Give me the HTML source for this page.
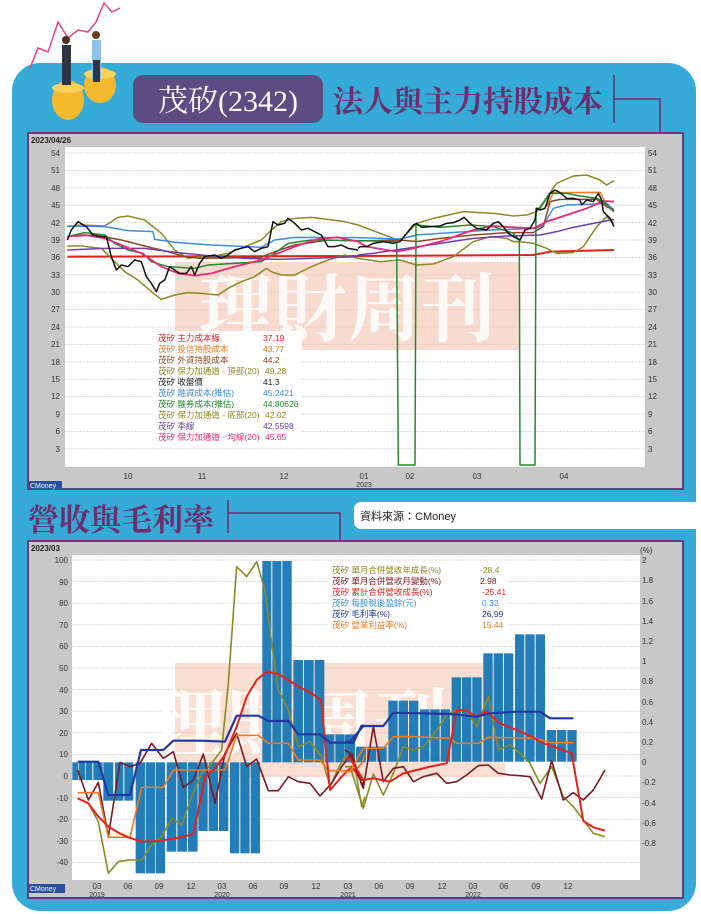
<!DOCTYPE html>
<html><head><meta charset="utf-8"><style>
html,body{margin:0;padding:0;background:#fff;}
svg{display:block;}
text{font-family:"Liberation Sans","Noto Sans CJK TC",sans-serif;}
.s{fill:none;stroke-linejoin:round;}
</style></head><body>
<svg width="701" height="914" viewBox="0 0 701 914" xmlns="http://www.w3.org/2000/svg">
<rect x="12" y="63" width="684" height="848" rx="28" fill="#36abd8"/>
<polyline points="30,68 38,48 48,52 58,22 68,38 78,30 88,32 96,22 104,3 112,12 120,8" fill="none" stroke="#e8457e" stroke-width="1.5"/>
<ellipse cx="68" cy="100" rx="16" ry="20" fill="#f5b92e"/>
<ellipse cx="68" cy="88" rx="16" ry="5" fill="#fbd35a"/>
<ellipse cx="100" cy="85" rx="16" ry="18" fill="#f5b92e"/>
<ellipse cx="100" cy="74" rx="16" ry="5" fill="#fbd35a"/>
<rect x="62" y="45" width="9" height="40" fill="#2d3446"/>
<circle cx="66" cy="40" r="4" fill="#4a2f1e"/>
<rect x="92" y="40" width="9" height="40" fill="#8fc3e8"/>
<rect x="93" y="60" width="7" height="22" fill="#2d3446"/>
<circle cx="96" cy="35" r="4" fill="#6b3e1e"/>
<rect x="133" y="75" width="190" height="48" rx="10" fill="#5b4c82"/>
<text x="228" y="111" text-anchor="middle" font-size="30" fill="#fff" style="font-family:'Liberation Serif','Noto Serif CJK SC',serif">茂矽(2342)</text>
<text x="333" y="112" font-size="30" font-weight="bold" fill="#6e2d6e" style="font-family:'Noto Serif CJK SC',serif">法人與主力持股成本</text>
<polyline points="614,75 614,123" stroke="#6e2d6e" stroke-width="1.5" fill="none"/>
<polyline points="614,99 660,99 660,133" stroke="#6e2d6e" stroke-width="1.5" fill="none"/>

<rect x="28" y="133" width="655" height="356" fill="#c8c8c8" stroke="#6b3a78" stroke-width="2"/>
<text x="31" y="143" font-size="8" font-weight="bold" fill="#222">2023/04/26</text>
<rect x="65" y="147" width="580" height="320" fill="#fff"/>
<g stroke="#d8d8d8" stroke-width="1" stroke-dasharray="2,1">
<line x1="65" x2="645" y1="153" y2="153"/><line x1="65" x2="645" y1="170.4" y2="170.4"/><line x1="65" x2="645" y1="187.8" y2="187.8"/><line x1="65" x2="645" y1="205.2" y2="205.2"/><line x1="65" x2="645" y1="222.6" y2="222.6"/><line x1="65" x2="645" y1="240" y2="240"/><line x1="65" x2="645" y1="257.4" y2="257.4"/><line x1="65" x2="645" y1="274.8" y2="274.8"/><line x1="65" x2="645" y1="292.2" y2="292.2"/><line x1="65" x2="645" y1="309.6" y2="309.6"/><line x1="65" x2="645" y1="327" y2="327"/><line x1="65" x2="645" y1="344.4" y2="344.4"/><line x1="65" x2="645" y1="361.8" y2="361.8"/><line x1="65" x2="645" y1="379.2" y2="379.2"/><line x1="65" x2="645" y1="396.6" y2="396.6"/><line x1="65" x2="645" y1="414" y2="414"/><line x1="65" x2="645" y1="431.4" y2="431.4"/><line x1="65" x2="645" y1="448.8" y2="448.8"/>
</g>
<g font-size="8" fill="#333" text-anchor="end">
<text x="60" y="156">54</text><text x="60" y="173">51</text><text x="60" y="191">48</text><text x="60" y="208">45</text><text x="60" y="226">42</text><text x="60" y="243">39</text><text x="60" y="260">36</text><text x="60" y="278">33</text><text x="60" y="295">30</text><text x="60" y="312">27</text><text x="60" y="330">24</text><text x="60" y="347">21</text><text x="60" y="365">18</text><text x="60" y="382">15</text><text x="60" y="399">12</text><text x="60" y="417">9</text><text x="60" y="434">6</text><text x="60" y="452">3</text>
</g>
<g font-size="8" fill="#333">
<text x="648" y="156">54</text><text x="648" y="173">51</text><text x="648" y="191">48</text><text x="648" y="208">45</text><text x="648" y="226">42</text><text x="648" y="243">39</text><text x="648" y="260">36</text><text x="648" y="278">33</text><text x="648" y="295">30</text><text x="648" y="312">27</text><text x="648" y="330">24</text><text x="648" y="347">21</text><text x="648" y="365">18</text><text x="648" y="382">15</text><text x="648" y="399">12</text><text x="648" y="417">9</text><text x="648" y="434">6</text><text x="648" y="452">3</text>
</g>
<g font-size="8" fill="#333" text-anchor="middle">
<text x="128" y="479">10</text><text x="202" y="479">11</text><text x="284" y="479">12</text><text x="364" y="479">01</text><text x="410" y="479">02</text><text x="477" y="479">03</text><text x="564" y="479">04</text><text x="364" y="487" font-size="7">2023</text>
</g>
<rect x="29" y="481" width="33" height="8" fill="#2a4f9e"/>
<text x="30" y="488" font-size="7" fill="#fff">CMoney</text>
<rect x="175" y="262" width="345" height="88" fill="#f4c3ad" opacity="0.6"/>
<text x="347" y="335" text-anchor="middle" font-size="74" font-weight="bold" fill="#fff" opacity="0.85" style="font-family:'Noto Serif CJK SC',serif">理財周刊</text>

<g transform="translate(28,140) scale(0.33333)">
<polyline class="s" vector-effect="non-scaling-stroke" stroke="#e0221c" stroke-width="2" points="118,350 990,348"/>
<polyline class="s" vector-effect="non-scaling-stroke" stroke="#8a8a26" stroke-width="1.5" points="118,260 160,255 230,258 270,232 300,228 350,240 400,280 440,330 480,355 520,350 560,348 600,340 650,320 700,300 730,270 760,245 800,235 850,232 900,238 950,245 990,255"/>
<polyline class="s" vector-effect="non-scaling-stroke" stroke="#8a8a26" stroke-width="1.5" points="118,318 160,318 220,325 250,355 290,395 330,420 370,455 400,478 440,465 480,458 520,460 570,465 600,445 640,425 680,410 715,385 730,395 760,405 800,405 850,380 900,360 950,345 990,355"/>
<polyline class="s" vector-effect="non-scaling-stroke" stroke="#3c8fd8" stroke-width="1.5" points="118,258 230,260 300,272 375,275 380,298 450,308 550,315 700,322 740,300 800,292 990,293"/>
<polyline class="s" vector-effect="non-scaling-stroke" stroke="#8b4a22" stroke-width="1.5" points="118,290 200,285 280,300 350,318 420,335 470,350 520,355 700,352 740,335 800,315 900,300 990,303"/>
<polyline class="s" vector-effect="non-scaling-stroke" stroke="#228b2e" stroke-width="1.5" points="118,290 170,278 230,285 260,310 300,330 345,340 370,365 420,380 500,385 540,375 700,365 740,340 780,310 850,300 990,302"/>
<polyline class="s" vector-effect="non-scaling-stroke" stroke="#7040a8" stroke-width="1.5" points="118,330 230,325 350,325 450,338 550,348 650,355 750,358 850,355 990,350"/>
<polyline class="s" vector-effect="non-scaling-stroke" stroke="#ea2a78" stroke-width="1.8" points="118,290 170,285 230,295 280,315 340,340 400,380 450,400 500,407 550,400 620,380 700,360 750,340 800,320 870,297 930,292 990,305"/>
<polyline class="s" vector-effect="non-scaling-stroke" stroke="#111" stroke-width="1.5" points="118,300 130,270 150,245 175,260 195,285 215,290 235,290 250,350 265,390 280,375 300,380 320,360 340,365 355,410 370,430 385,455 395,430 410,420 425,380 440,390 455,400 475,400 490,380 500,405 515,370 530,350 560,345 580,355 600,345 620,330 640,325 660,320 680,335 700,325 720,320 735,245 750,255 770,250 780,235 800,250 820,270 840,265 860,275 880,285 900,320 920,320 940,315 960,325 990,330"/>
</g>
<g transform="translate(340,140) scale(0.33333)">
<polyline class="s" vector-effect="non-scaling-stroke" stroke="#e0221c" stroke-width="2" points="54,348 580,345 630,335 822,330"/>
<polyline class="s" vector-effect="non-scaling-stroke" stroke="#8a8a26" stroke-width="1.5" points="54,255 120,280 180,302 230,250 280,235 370,215 460,220 520,228 560,225 590,215 650,130 700,108 740,105 780,120 800,135 822,122"/>
<polyline class="s" vector-effect="non-scaling-stroke" stroke="#8a8a26" stroke-width="1.5" points="54,355 120,365 180,360 230,375 280,372 340,350 400,305 450,290 500,295 520,305 540,305 580,310 620,325 650,340 700,338 730,320 770,260 800,230 822,250"/>
<polyline class="s" vector-effect="non-scaling-stroke" stroke="#f07a1e" stroke-width="1.5" points="620,200 640,158 780,157 800,195 822,215"/>
<polyline class="s" vector-effect="non-scaling-stroke" stroke="#3c8fd8" stroke-width="1.5" points="54,293 180,297 230,285 300,280 450,270 590,265 610,255 640,205 680,195 770,192 800,190 822,210"/>
<polyline class="s" vector-effect="non-scaling-stroke" stroke="#8b4a22" stroke-width="1.5" points="54,303 180,300 230,305 300,295 400,285 500,278 580,278 610,260 630,185 660,178 770,178 800,200 822,210"/>
<polyline class="s" vector-effect="non-scaling-stroke" stroke="#228b2e" stroke-width="1.5" points="54,302 170,305 175,975 225,975 228,255 300,262 390,255 460,260 520,280 538,300 540,975 585,975 588,205 600,205 630,160 680,160 720,168 770,175 790,185 810,205 822,215"/>
<polyline class="s" vector-effect="non-scaling-stroke" stroke="#7040a8" stroke-width="1.5" points="54,345 100,340 200,325 300,310 400,295 500,288 600,285 650,275 700,262 760,250 822,238"/>
<polyline class="s" vector-effect="non-scaling-stroke" stroke="#ea2a78" stroke-width="1.8" points="54,305 80,320 170,335 220,325 300,305 400,270 460,258 520,262 580,265 620,245 680,225 740,205 790,183 822,185"/>
<polyline class="s" vector-effect="non-scaling-stroke" stroke="#111" stroke-width="1.5" points="54,325 60,320 80,320 100,310 130,305 160,310 180,305 200,280 220,255 230,250 245,262 270,260 300,258 320,250 340,248 360,240 372,232 390,250 410,265 440,270 460,250 475,245 490,260 505,280 520,290 540,300 555,270 570,265 585,240 590,205 600,210 615,205 630,160 645,150 660,158 680,175 700,175 720,180 725,195 740,180 760,185 775,160 785,180 790,215 800,225 810,235 822,260"/>
</g>
<rect x="152" y="331" width="150" height="110" fill="#fff" opacity="0.95"/>
<g font-size="8.5">
<text x="158" y="341" fill="#e0221c">茂矽 主力成本線</text><text x="263" y="341" fill="#e0221c">37.19</text>
<text x="158" y="352" fill="#f07a1e">茂矽 投信持股成本</text><text x="263" y="352" fill="#f07a1e">43.77</text>
<text x="158" y="363" fill="#8b4a22">茂矽 外資持股成本</text><text x="263" y="363" fill="#8b4a22">44.2</text>
<text x="158" y="374" fill="#8a8a26">茂矽 保力加通道 - 頂部(20)</text><text x="265" y="374" fill="#8a8a26">49.28</text>
<text x="158" y="385" fill="#222">茂矽 收盤價</text><text x="263" y="385" fill="#222">41.3</text>
<text x="158" y="396" fill="#3c8fd8">茂矽 融資成本(推估)</text><text x="263" y="396" fill="#3c8fd8">45.2421</text>
<text x="158" y="407" fill="#228b2e">茂矽 融券成本(推估)</text><text x="263" y="407" fill="#228b2e">44.80626</text>
<text x="158" y="418" fill="#8a8a26">茂矽 保力加通道 - 底部(20)</text><text x="265" y="418" fill="#8a8a26">42.02</text>
<text x="158" y="429" fill="#7040a8">茂矽 季線</text><text x="263" y="429" fill="#7040a8">42.5598</text>
<text x="158" y="440" fill="#ea2a78">茂矽 保力加通道 - 均線(20)</text><text x="265" y="440" fill="#ea2a78">45.65</text>
</g>

<text x="28" y="531" font-size="31" font-weight="bold" fill="#6e2d6e" style="font-family:'Noto Serif CJK SC',serif">營收與毛利率</text>
<polyline points="228,500 228,533" stroke="#6e2d6e" stroke-width="1.5" fill="none"/>
<polyline points="228,513 340,513 340,542" stroke="#6e2d6e" stroke-width="1.5" fill="none"/>
<rect x="354" y="502" width="360" height="27" rx="7" fill="#fff"/>
<text x="360" y="520" font-size="11" fill="#222">資料來源：CMoney</text>

<rect x="28" y="541" width="655" height="357" fill="#c8c8c8" stroke="#6b3a78" stroke-width="2"/>
<text x="31" y="551" font-size="8" font-weight="bold" fill="#222">2023/03</text>
<text x="640" y="553" font-size="8" fill="#333">(%)</text>
<rect x="72" y="555" width="568" height="325" fill="#fff"/>
<g stroke="#d8d8d8" stroke-width="1" stroke-dasharray="2,1">
<line x1="72" x2="640" y1="560" y2="560"/><line x1="72" x2="640" y1="581.6" y2="581.6"/><line x1="72" x2="640" y1="603.2" y2="603.2"/><line x1="72" x2="640" y1="624.8" y2="624.8"/><line x1="72" x2="640" y1="646.4" y2="646.4"/><line x1="72" x2="640" y1="668" y2="668"/><line x1="72" x2="640" y1="689.6" y2="689.6"/><line x1="72" x2="640" y1="711.2" y2="711.2"/><line x1="72" x2="640" y1="732.8" y2="732.8"/><line x1="72" x2="640" y1="754.4" y2="754.4"/><line x1="72" x2="640" y1="776" y2="776"/><line x1="72" x2="640" y1="797.6" y2="797.6"/><line x1="72" x2="640" y1="819.2" y2="819.2"/><line x1="72" x2="640" y1="840.8" y2="840.8"/><line x1="72" x2="640" y1="862.4" y2="862.4"/>
</g>
<g font-size="8" fill="#333" text-anchor="end">
<text x="68" y="563">100</text><text x="68" y="585">90</text><text x="68" y="606">80</text><text x="68" y="628">70</text><text x="68" y="649">60</text><text x="68" y="671">50</text><text x="68" y="693">40</text><text x="68" y="714">30</text><text x="68" y="736">20</text><text x="68" y="757">10</text><text x="68" y="779">0</text><text x="68" y="801">-10</text><text x="68" y="822">-20</text><text x="68" y="844">-30</text><text x="68" y="865">-40</text>
</g>
<g font-size="8" fill="#333">
<text x="642" y="563">2</text><text x="642" y="583">1.8</text><text x="642" y="604">1.6</text><text x="642" y="624">1.4</text><text x="642" y="644">1.2</text><text x="642" y="664">1</text><text x="642" y="684">0.8</text><text x="642" y="705">0.6</text><text x="642" y="725">0.4</text><text x="642" y="745">0.2</text><text x="642" y="765">0</text><text x="642" y="785">-0.2</text><text x="642" y="806">-0.4</text><text x="642" y="826">-0.6</text><text x="642" y="846">-0.8</text>
</g>
<g font-size="8" fill="#333" text-anchor="middle">
<text x="97" y="889">03</text><text x="128" y="889">06</text><text x="159" y="889">09</text><text x="191" y="889">12</text><text x="222" y="889">03</text><text x="253" y="889">06</text><text x="284" y="889">09</text><text x="316" y="889">12</text><text x="348" y="889">03</text><text x="379" y="889">06</text><text x="410" y="889">09</text><text x="442" y="889">12</text><text x="473" y="889">03</text><text x="504" y="889">06</text><text x="536" y="889">09</text><text x="568" y="889">12</text>
<text x="97" y="897" font-size="7">2019</text><text x="222" y="897" font-size="7">2020</text><text x="348" y="897" font-size="7">2021</text><text x="473" y="897" font-size="7">2022</text>
</g>
<rect x="29" y="884" width="36" height="9" fill="#2a4f9e"/>
<text x="30" y="891" font-size="7" fill="#fff">CMoney</text>
<rect x="175" y="663" width="330" height="114" fill="#f4c3ad" opacity="0.55"/>
<text x="300" y="750" text-anchor="middle" font-size="74" font-weight="bold" fill="#fff" opacity="0.85" style="font-family:'Noto Serif CJK SC',serif">理財周刊</text>

<g fill="#1777b5" opacity="0.95">
<g transform="translate(65,550) scale(0.33333)">
<rect x="22" y="637" width="18" height="53"/><rect x="42" y="637" width="18" height="53"/><rect x="62" y="637" width="20" height="53"/>
<rect x="85" y="637" width="28" height="53"/>
<rect x="115" y="637" width="30" height="115"/><rect x="150" y="637" width="25" height="115"/><rect x="178" y="637" width="27" height="115"/>
<rect x="212" y="637" width="28" height="333"/><rect x="242" y="637" width="28" height="333"/><rect x="272" y="637" width="28" height="333"/>
<rect x="305" y="637" width="29" height="268"/><rect x="337" y="637" width="29" height="268"/><rect x="369" y="637" width="29" height="268"/>
<rect x="400" y="637" width="28" height="206"/><rect x="431" y="637" width="28" height="206"/><rect x="462" y="637" width="28" height="206"/>
<rect x="495" y="637" width="28" height="273"/><rect x="526" y="637" width="28" height="273"/><rect x="557" y="637" width="28" height="273"/>
<rect x="592" y="33" width="27" height="604"/><rect x="622" y="33" width="27" height="604"/><rect x="652" y="33" width="28" height="604"/>
<rect x="685" y="330" width="29" height="307"/><rect x="717" y="330" width="29" height="307"/><rect x="749" y="330" width="29" height="307"/>
<rect x="780" y="553" width="28" height="84"/><rect x="811" y="553" width="28" height="84"/><rect x="842" y="553" width="28" height="84"/>
<rect x="873" y="593" width="27" height="44"/>
</g>
<g transform="translate(350,620) scale(0.33333)">
<rect x="-15" y="345" width="30" height="80"/>
<rect x="20" y="380" width="28" height="45"/><rect x="51" y="380" width="28" height="45"/><rect x="82" y="380" width="28" height="45"/>
<rect x="115" y="242" width="28" height="183"/><rect x="146" y="242" width="28" height="183"/><rect x="177" y="242" width="28" height="183"/>
<rect x="210" y="268" width="28" height="157"/><rect x="241" y="268" width="28" height="157"/><rect x="272" y="268" width="28" height="157"/>
<rect x="305" y="172" width="28" height="253"/><rect x="336" y="172" width="28" height="253"/><rect x="367" y="172" width="28" height="253"/>
<rect x="400" y="100" width="28" height="325"/><rect x="431" y="100" width="28" height="325"/><rect x="462" y="100" width="28" height="325"/>
<rect x="495" y="43" width="28" height="382"/><rect x="526" y="43" width="28" height="382"/><rect x="557" y="43" width="28" height="382"/>
<rect x="590" y="330" width="28" height="95"/><rect x="621" y="330" width="28" height="95"/><rect x="652" y="330" width="28" height="95"/>
</g>
</g>
<g transform="translate(65,550) scale(0.33333)">
<polyline class="s" vector-effect="non-scaling-stroke" stroke="#8a8a26" stroke-width="1.6" points="38,745 70,760 100,815 130,970 160,935 190,930 230,930 260,885 290,860 320,805 350,825 380,740 410,670 440,640 470,600 490,400 515,50 545,80 575,35 600,120 620,280 640,420 670,480 700,590 735,575 770,620 795,710 820,655 840,620 865,620 890,770 900,740"/>
<polyline class="s" vector-effect="non-scaling-stroke" stroke="#7a1a22" stroke-width="1.6" points="38,660 70,750 100,697 130,860 165,637 195,650 225,640 260,580 295,625 325,605 355,712 385,690 415,612 450,760 480,610 515,550 545,650 575,627 610,722 640,722 670,680 700,695 735,700 765,738 800,700 830,650 860,610 890,705 900,690"/>
<polyline class="s" vector-effect="non-scaling-stroke" stroke="#f07a1e" stroke-width="1.6" points="38,728 100,728 130,862 195,862 230,712 295,712 325,660 480,660 515,556 580,556 610,580 670,580 700,630 765,630 790,662 870,662 890,640 900,615"/>
<polyline class="s" vector-effect="non-scaling-stroke" stroke="#e8201c" stroke-width="2" points="38,745 70,760 100,800 130,830 160,848 190,862 230,875 280,873 330,865 385,853 400,780 420,680 450,655 480,615 515,530 545,440 575,390 605,365 640,372 670,390 700,410 740,430 768,450 795,720 830,680 860,650 890,690 900,690"/>
<polyline class="s" vector-effect="non-scaling-stroke" stroke="#2238a0" stroke-width="2.2" points="38,635 100,635 130,735 195,735 228,600 295,600 325,572 410,572 480,575 515,497 580,497 610,513 670,513 700,553 765,553 795,578 865,578 890,527 900,527"/>
</g>
<g transform="translate(350,620) scale(0.33333)">
<polyline class="s" vector-effect="non-scaling-stroke" stroke="#8a8a26" stroke-width="1.6" points="-15,440 0,440 40,565 70,462 100,525 130,460 160,380 190,390 220,380 260,330 290,285 320,270 350,270 380,320 415,230 445,390 480,375 510,400 540,430 570,490 605,440 640,530 670,560 700,600 730,640 765,650"/>
<polyline class="s" vector-effect="non-scaling-stroke" stroke="#7a1a22" stroke-width="1.6" points="-15,390 0,400 40,505 70,320 100,485 130,445 160,440 190,485 220,470 260,460 290,490 320,485 350,465 385,437 415,435 445,460 480,465 510,467 540,470 575,537 605,422 640,540 670,518 700,540 730,510 765,450"/>
<polyline class="s" vector-effect="non-scaling-stroke" stroke="#f07a1e" stroke-width="1.6" points="-15,455 0,455 40,385 100,385 130,350 190,350 300,355 320,370 385,370 415,352 560,355 600,368 670,368"/>
<polyline class="s" vector-effect="non-scaling-stroke" stroke="#e8201c" stroke-width="2" points="-15,420 0,415 40,480 70,475 120,485 160,460 200,450 240,440 290,430 320,270 350,272 380,290 410,275 450,310 500,330 545,350 580,370 630,387 665,400 700,603 730,622 765,632"/>
<polyline class="s" vector-effect="non-scaling-stroke" stroke="#2238a0" stroke-width="2.2" points="-15,365 0,365 40,318 100,318 130,278 300,282 380,290 420,280 500,275 570,275 600,295 670,295"/>
</g>
<rect x="328" y="563" width="178" height="70" fill="#fff" opacity="0.95"/>
<g font-size="8.5">
<text x="332" y="573" fill="#8a8a26">茂矽 單月合併營收年成長(%)</text><text x="480" y="573" fill="#8a8a26">-28.4</text>
<text x="332" y="584" fill="#7a1a22">茂矽 單月合併營收月變動(%)</text><text x="480" y="584" fill="#7a1a22">2.98</text>
<text x="332" y="595" fill="#e8201c">茂矽 累計合併營收成長(%)</text><text x="482" y="595" fill="#e8201c">-25.41</text>
<text x="332" y="606" fill="#3c8fd8">茂矽 每股稅後盈餘(元)</text><text x="482" y="606" fill="#3c8fd8">0.32</text>
<text x="332" y="617" fill="#2238a0">茂矽 毛利率(%)</text><text x="482" y="617" fill="#2238a0">26.99</text>
<text x="332" y="628" fill="#f07a1e">茂矽 營業利益率(%)</text><text x="482" y="628" fill="#f07a1e">15.44</text>
</g>
</svg>
</body></html>
